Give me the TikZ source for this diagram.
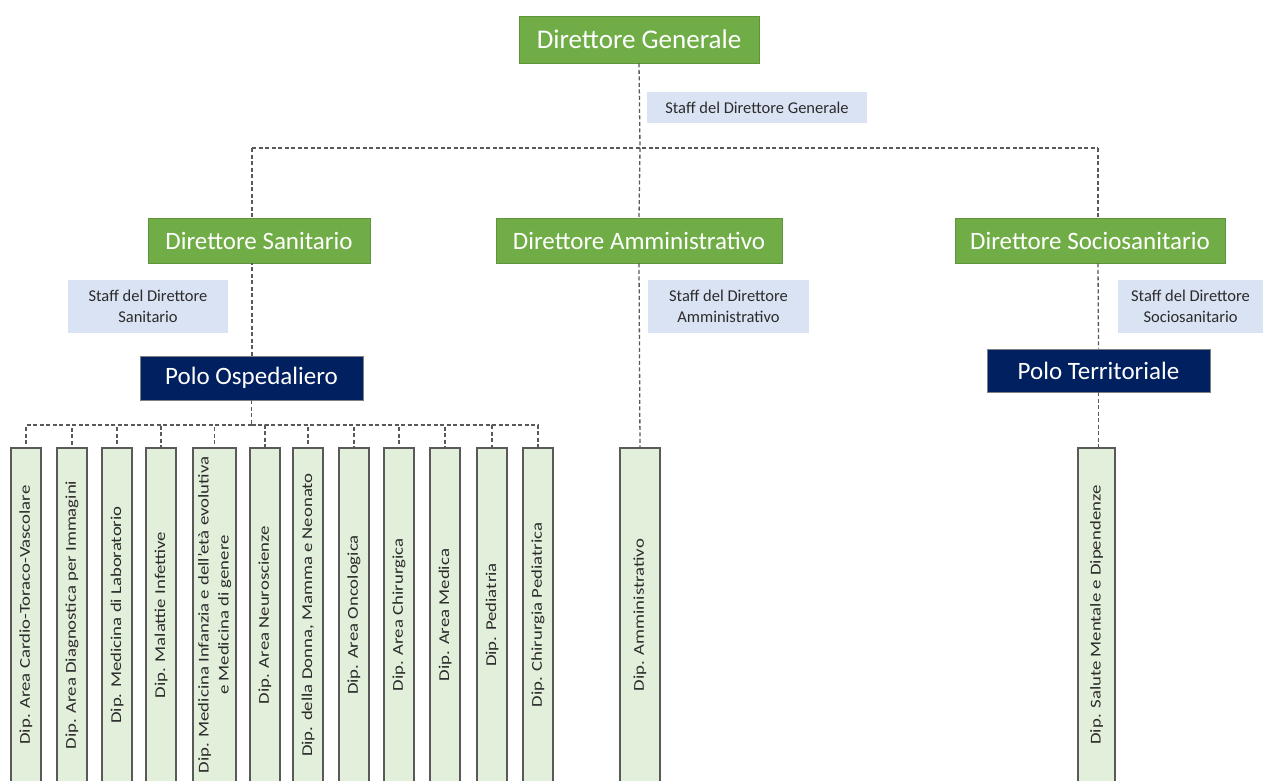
\documentclass[tikz,border=0pt]{standalone}
\usepackage{fontspec}
\setmainfont{Carlito}
\usepackage{graphicx}
\definecolor{dgreen}{HTML}{70AD47}
\definecolor{navy}{HTML}{002060}
\definecolor{staffblue}{HTML}{DAE3F3}
\definecolor{colgreen}{HTML}{E2EFDA}
\definecolor{linegray}{HTML}{595959}
\definecolor{txtgray}{HTML}{2B2B2B}
\begin{document}
\begin{tikzpicture}[x=1pt,y=-1pt,
  dirbox/.style={fill=dgreen, draw=dgreen!85!black, line width=0.6pt, text=white, inner sep=0pt, font=\fontsize{25}{30}\selectfont},
  polobox/.style={fill=navy, draw=gray, line width=0.8pt, text=white, inner sep=0pt, minimum width=223, font=\fontsize{25}{30}\selectfont},
  staffbox/.style={fill=staffblue, inner sep=0pt, text=txtgray, align=center, font=\fontsize{16.5}{20.5}\selectfont},
  colbox/.style={fill=colgreen, draw=linegray, line width=1.4pt, inner sep=0pt, minimum height=334, minimum width=30},
  coltext/.style={rotate=90, text=txtgray, inner sep=0pt, align=center, font=\fontsize{15}{20}\selectfont},
  conn/.style={draw=linegray, line width=1.3pt, dash pattern=on 4pt off 2.5pt}
]
\useasboundingbox (0,0) rectangle (1263,780);

% top level
\node[dirbox, minimum width=240, minimum height=47, font=\fontsize{27}{32}\selectfont] (dg) at (639,39.5) {Direttore Generale};
\node[staffbox, minimum width=220, minimum height=31] (sdg) at (757,107.5) {Staff del Direttore Generale};

% second level
\node[dirbox, minimum width=222, minimum height=45] (ds) at (259,240.5) {Direttore Sanitario};
\node[dirbox, minimum width=286, minimum height=45] (da) at (639,240.5) {Direttore Amministrativo};
\node[dirbox, minimum width=270, minimum height=45] (dss) at (1090,240.5) {Direttore Sociosanitario};

\node[staffbox, minimum width=160, minimum height=53] (sds) at (148,306.5) {Staff del Direttore\\Sanitario};
\node[staffbox, minimum width=161, minimum height=53] (sda) at (728.5,306.5) {Staff del Direttore\\Amministrativo};
\node[staffbox, minimum width=145, minimum height=53] (sdss) at (1190.5,306.5) {Staff del Direttore\\Sociosanitario};

\node[polobox, minimum height=44] (po) at (251.5,378) {Polo Ospedaliero};
\node[polobox, minimum height=43] (pt) at (1098.5,370.5) {Polo Territoriale};

% columns
\foreach \n/\x in {c1/26,c2/72,c3/117,c4/161,c6/265,c7/308,c8/354,c9/399,c10/445,c11/492,c12/538}{
  \node[colbox] (\n) at (\x,615) {};
}
\node[colbox, minimum width=43] (c5) at (214.5,615) {};
\node[colbox, minimum width=40] (camm) at (640,615) {};
\node[colbox, minimum width=37] (csm) at (1096.5,615) {};

\newcommand{\ct}[1]{\scalebox{1.25}[1]{#1}}
\node[coltext] at (c1) {\ct{Dip. Area Cardio-Toraco-Vascolare}};
\node[coltext] at (c2) {\ct{Dip. Area Diagnostica per Immagini}};
\node[coltext] at (c3) {\ct{Dip. Medicina di Laboratorio}};
\node[coltext] at (c4) {\ct{Dip. Malattie Infettive}};
\node[coltext] at (c5) {\ct{\begin{tabular}{@{}c@{}}Dip. Medicina Infanzia e dell'età evolutiva\\e Medicina di genere\end{tabular}}};
\node[coltext] at (c6) {\ct{Dip. Area Neuroscienze}};
\node[coltext] at (c7) {\ct{Dip. della Donna, Mamma e Neonato}};
\node[coltext] at (c8) {\ct{Dip. Area Oncologica}};
\node[coltext] at (c9) {\ct{Dip. Area Chirurgica}};
\node[coltext] at (c10) {\ct{Dip. Area Medica}};
\node[coltext] at (c11) {\ct{Dip. Pediatria}};
\node[coltext] at (c12) {\ct{Dip. Chirurgia Pediatrica}};
\node[coltext] at (camm) {\ct{Dip. Amministrativo}};
\node[coltext] at (csm) {\ct{Dip. Salute Mentale e Dipendenze}};

% connectors
\coordinate (jC) at (640,148);
\coordinate (jL) at (252,148);
\coordinate (jR) at (1098,148);
\coordinate (bus) at (251.5,425);

\draw[conn] (dg.south) -- (jC);
\draw[conn] (jL) -- (jR);
\draw[conn] (jL) -- (jL |- ds.north);
\draw[conn] (po.north -| jL) -- (jL |- ds.south);
\draw[conn] (jC) -- (da.north);
\draw[conn] (da.south) -- (camm.north);
\draw[conn] (jR) -- (jR |- dss.north);
\draw[conn] (jR |- dss.south) -- (pt.north);
\draw[conn] (pt.south) -- (pt.south |- csm.north);
\draw[conn] (po.south) -- (bus);
\foreach \n in {c1,c2,c3,c4,c5,c6,c7,c8,c9,c10,c11,c12}{
  \draw[conn] (bus) -| (\n.north);
}
\end{tikzpicture}
\end{document}
